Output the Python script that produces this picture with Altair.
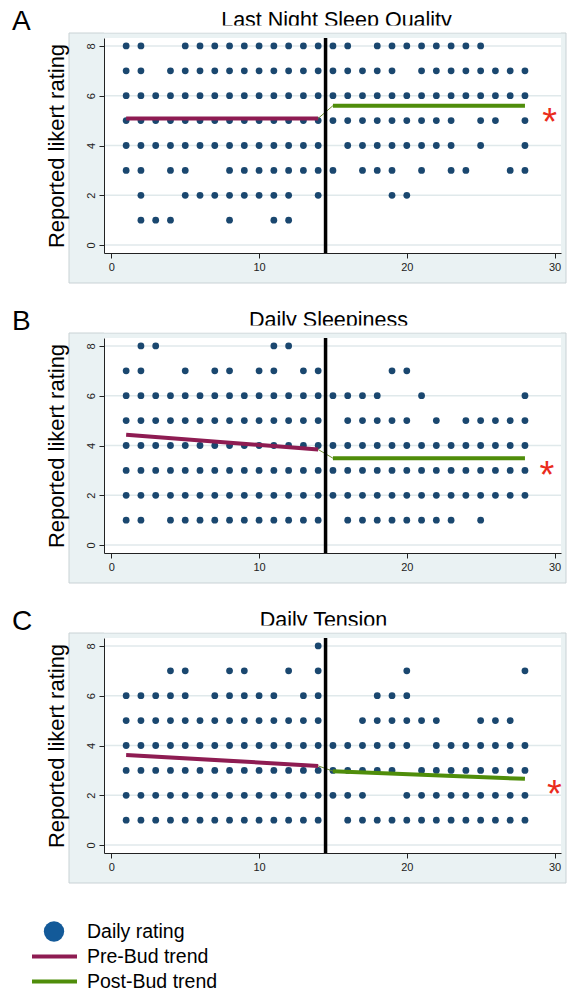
import altair as alt
import pandas as pd

# ---------------- data ----------------
# days on which each likert rating was reported
quality_days = {
    8: [1, 2, 5, 6, 7, 8, 9, 10, 11, 12, 13, 14, 15, 16, 18, 19, 20, 21, 22, 23, 24, 25],
    7: [1, 2, 4, 5, 6, 7, 8, 9, 10, 11, 12, 13, 14, 15, 16, 17, 18, 19, 21, 22, 23, 24, 25, 26, 27, 28],
    6: [1, 2, 3, 4, 5, 6, 7, 8, 9, 10, 11, 12, 13, 14, 15, 16, 17, 18, 19, 20, 21, 22, 23, 24, 25, 26, 27, 28],
    5: [1, 2, 3, 4, 5, 6, 7, 8, 9, 10, 11, 12, 13, 14, 15, 16, 17, 18, 19, 20, 21, 22, 23, 25, 26, 28],
    4: [1, 2, 3, 4, 5, 6, 7, 8, 9, 10, 11, 12, 13, 14, 16, 17, 18, 19, 20, 21, 22, 23, 25, 28],
    3: [1, 2, 4, 5, 8, 9, 10, 11, 12, 13, 14, 15, 17, 18, 19, 21, 23, 24, 27, 28],
    2: [2, 5, 6, 7, 8, 9, 10, 11, 12, 14, 19, 20],
    1: [2, 3, 4, 8, 11, 12],
}
sleepiness_days = {
    8: [2, 3, 11, 12],
    7: [1, 2, 5, 7, 8, 10, 11, 13, 14, 19, 20],
    6: [1, 2, 3, 4, 5, 6, 7, 8, 9, 10, 11, 12, 13, 14, 15, 16, 17, 18, 21, 28],
    5: [1, 2, 3, 4, 5, 6, 7, 8, 9, 10, 11, 12, 13, 14, 16, 17, 18, 19, 20, 22, 24, 25, 26, 27, 28],
    4: [1, 2, 3, 4, 5, 6, 7, 8, 9, 10, 11, 12, 13, 14, 15, 16, 17, 18, 19, 20, 21, 22, 23, 24, 25, 26, 27, 28],
    3: [1, 2, 3, 4, 5, 6, 7, 8, 9, 10, 11, 12, 13, 14, 15, 16, 17, 18, 19, 20, 21, 22, 23, 24, 25, 26, 27, 28],
    2: [1, 2, 3, 4, 5, 6, 7, 8, 9, 10, 11, 12, 13, 14, 15, 16, 17, 18, 19, 20, 21, 22, 23, 24, 25, 26, 27, 28],
    1: [1, 2, 4, 5, 6, 7, 8, 9, 10, 11, 12, 13, 14, 16, 17, 18, 19, 20, 21, 22, 23, 25],
}
tension_days = {
    8: [14],
    7: [4, 5, 8, 9, 12, 14, 20, 28],
    6: [1, 2, 3, 4, 5, 7, 8, 9, 10, 11, 13, 14, 18, 19, 20],
    5: [1, 2, 3, 4, 5, 6, 7, 8, 9, 10, 11, 12, 13, 14, 17, 18, 19, 20, 21, 22, 25, 26, 27],
    4: [1, 2, 3, 4, 5, 6, 7, 8, 9, 10, 11, 12, 13, 14, 15, 16, 17, 18, 19, 20, 22, 23, 24, 25, 26, 27, 28],
    3: [1, 2, 3, 4, 5, 6, 7, 8, 9, 10, 11, 12, 13, 14, 15, 16, 17, 18, 19, 21, 22, 23, 24, 25, 26, 27, 28],
    2: [1, 2, 3, 4, 5, 6, 7, 8, 9, 10, 11, 12, 13, 14, 15, 16, 17, 20, 21, 22, 23, 24, 25, 26, 27, 28],
    1: [1, 2, 3, 4, 5, 6, 7, 8, 9, 10, 11, 12, 13, 14, 16, 17, 18, 19, 20, 21, 22, 23, 24, 25, 26, 27, 28],
}

# trend lines: (day, fitted rating) at the ends of each segment
quality_pre = [(1, 5.09), (14, 5.09)]
quality_post = [(15, 5.6), (28, 5.6)]
sleepiness_pre = [(1, 4.43), (14, 3.84)]
sleepiness_post = [(15, 3.49), (28, 3.49)]
tension_pre = [(1, 3.62), (14, 3.18)]
tension_post = [(15, 2.97), (28, 2.66)]

# significance markers (day, rating)
quality_star = (29.67, 5.25)
sleepiness_star = (29.48, 3.13)
tension_star = (30.0, 2.36)

bud_day = 14.5
y_ticks = [0, 2, 4, 6, 8]
x_ticks = [0, 10, 20, 30]

titles = ["Last Night Sleep Quality", "Daily Sleepiness", "Daily Tension"]
letters = ["A", "B", "C"]
legend_labels = ["Daily rating", "Pre-Bud trend", "Post-Bud trend"]

# ---------------- style ----------------
FONT = "Liberation Sans"
DOT = "#1a476f"
PRE = "#8e1c52"
POST = "#4f8d0a"
STAR = "#ea2c1c"
BG = "#eaf2f3"
GRID = "#e0e9eb"
W, H = 457, 215
XDOM = [-0.5, 30.44]
YDOM = [-0.32, 8.32]

one = pd.DataFrame({"k": [0]})


def panel(title, letter, days, pre, post, star, title_dx):
    pts = pd.DataFrame([(d, r) for r, ds in days.items() for d in ds], columns=["day", "rating"])
    trend = pd.DataFrame(
        [(d, v, "pre") for d, v in pre]
        + [(d, v, "post") for d, v in post]
        + [(pre[-1][0], pre[-1][1], "link"), (post[0][0], post[0][1], "link")],
        columns=["day", "rating", "seg"],
    )
    grid = pd.DataFrame({"rating": y_ticks})
    stars = pd.DataFrame({"day": [star[0]], "rating": [star[1]]})

    x = alt.X(
        "day:Q",
        scale=alt.Scale(domain=XDOM, nice=False, zero=False),
        axis=alt.Axis(values=x_ticks, title=None, grid=False, labelFontSize=11,
                      tickSize=5, labelPadding=3, zindex=2),
    )
    y = alt.Y(
        "rating:Q",
        scale=alt.Scale(domain=YDOM, nice=False, zero=False),
        axis=alt.Axis(values=y_ticks, title="Reported likert rating", grid=False,
                      labelFontSize=11, labelAngle=270, tickSize=5, labelPadding=3,
                      titleFontSize=22, titleFontWeight="normal", titlePadding=17,
                      titleColor="black", zindex=2),
    )

    frame = alt.Chart(one).mark_rect(fill=BG, stroke="#c9d2d5", strokeWidth=1).encode(
        x=alt.value(-35), x2=alt.value(W + 5), y=alt.value(-5), y2=alt.value(H + 30))
    plotbg = alt.Chart(one).mark_rect(fill="white").encode(
        x=alt.value(0), x2=alt.value(W), y=alt.value(0), y2=alt.value(H))
    gridl = alt.Chart(grid).mark_rule(color=GRID, strokeWidth=1.5).encode(
        y=y, x=alt.value(0), x2=alt.value(W))
    dots = alt.Chart(pts).mark_circle(color=DOT, opacity=1, size=46).encode(x=x, y=y)
    pre_l = alt.Chart(trend).transform_filter("datum.seg == 'pre'").mark_line(
        color=PRE, strokeWidth=4).encode(x=x, y=y)
    post_l = alt.Chart(trend).transform_filter("datum.seg == 'post'").mark_line(
        color=POST, strokeWidth=4).encode(x=x, y=y)
    link_l = alt.Chart(trend).transform_filter("datum.seg == 'link'").mark_line(
        color="#6b8a2a", strokeWidth=1).encode(x=x, y=y)
    vline = alt.Chart(one).mark_rule(color="black", strokeWidth=3.5).encode(
        x=alt.datum(bud_day), y=alt.value(0), y2=alt.value(H))
    star_t = alt.Chart(stars).mark_text(text="*", color=STAR, fontSize=38, font=FONT,
                                        baseline="alphabetic", dy=21).encode(x=x, y=y)
    letter_t = alt.Chart(one).mark_text(text=letter, fontSize=28, font=FONT, align="left",
                                        baseline="top", color="black").encode(
        x=alt.value(-92), y=alt.value(-30))
    title_t = alt.Chart(one).mark_text(text=title, fontSize=21.5, font=FONT, align="center",
                                       baseline="top", color="black").encode(
        x=alt.value(W / 2 + title_dx), y=alt.value(-28))
    title_clip = alt.Chart(one).mark_rect(fill="white").encode(
        x=alt.value(0), x2=alt.value(W), y=alt.value(-12.5), y2=alt.value(-5.5))

    return alt.layer(frame, plotbg, gridl, dots, pre_l, post_l, link_l, vline, star_t,
                     letter_t, title_t, title_clip).properties(width=W, height=H)


pA = panel(titles[0], letters[0], quality_days, quality_pre, quality_post, quality_star, 4)
pB = panel(titles[1], letters[1], sleepiness_days, sleepiness_pre, sleepiness_post, sleepiness_star, -4)
pC = panel(titles[2], letters[2], tension_days, tension_pre, tension_post, tension_star, -9)

# ---------------- legend ----------------
leg = pd.DataFrame({"label": legend_labels, "idx": [0, 1, 2]})
leg_y = alt.Y("idx:Q", scale=alt.Scale(domain=[0, 2], range=[11.5, 61.5]), axis=None)
leg_dot = alt.Chart(leg).transform_filter("datum.idx == 0").mark_circle(
    color="#135a99", size=415, opacity=1).encode(x=alt.value(-50), y=leg_y)
leg_line = alt.Chart(leg).transform_filter("datum.idx > 0").mark_rule(strokeWidth=4, dy=1).encode(
    x=alt.value(-72), x2=alt.value(-27), y=leg_y,
    color=alt.Color("label:N", scale=alt.Scale(domain=legend_labels[1:], range=[PRE, POST]), legend=None))
leg_text = alt.Chart(leg).mark_text(align="left", baseline="middle", fontSize=19.5, font=FONT,
                                    color="black").encode(x=alt.value(-17), y=leg_y, text="label:N")
legend = alt.layer(leg_dot, leg_line, leg_text).properties(width=W - 10, height=50)

panels = alt.vconcat(pA, pB, pC, spacing=24)
chart = alt.vconcat(panels, legend, spacing=36).properties(
    background="white", padding={"left": 4, "top": 0, "right": 0, "bottom": 0}
).configure_view(
    stroke="transparent", strokeWidth=0, fill="transparent"
).configure_axis(
    domainColor="#222", tickColor="#222", labelColor="#222",
    labelFont=FONT, titleFont=FONT,
)

chart.save("out.html", embed_options={"renderer": "svg", "actions": False})
